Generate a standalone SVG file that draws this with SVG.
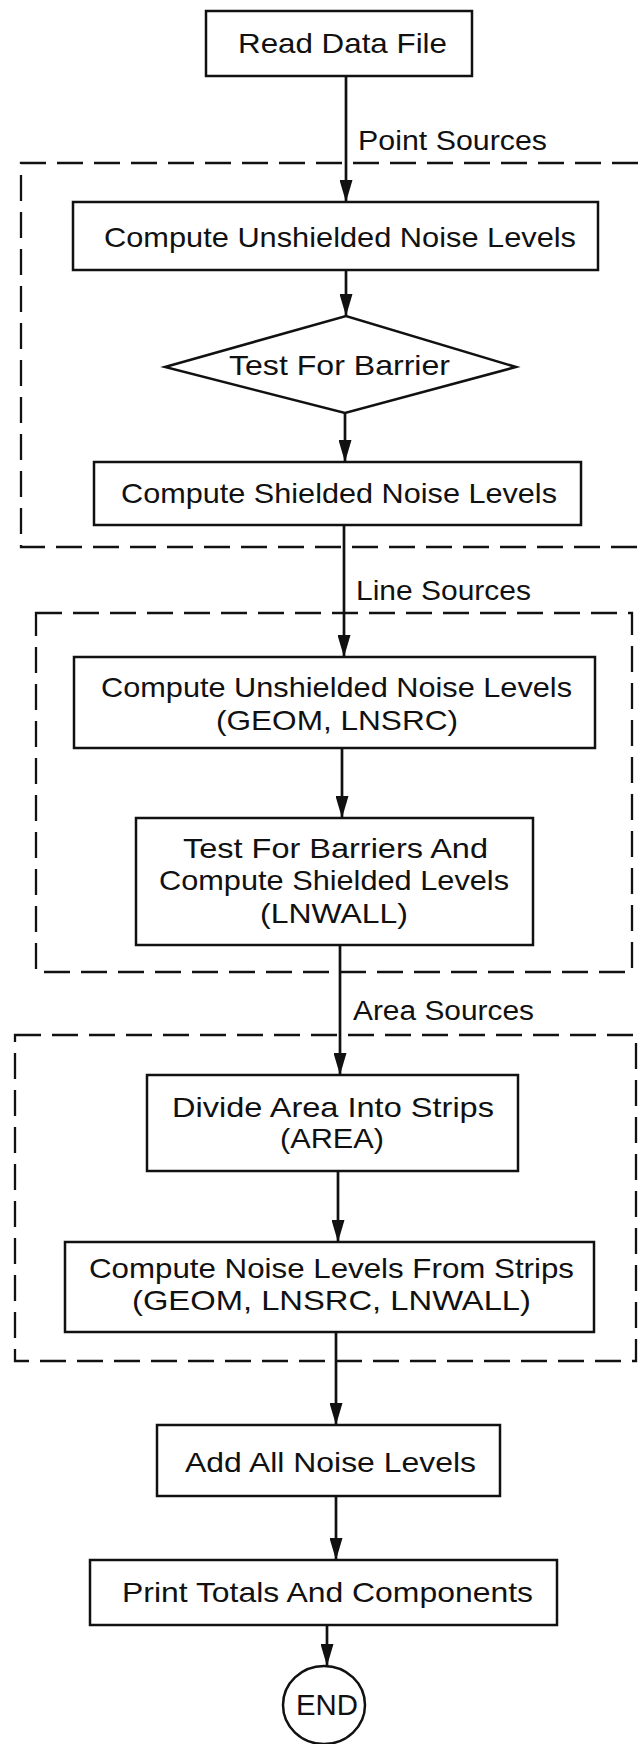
<svg xmlns="http://www.w3.org/2000/svg" width="638" height="1744" viewBox="0 0 638 1744">
<style>
.box{fill:#fff;stroke:#111;stroke-width:2.5}
.grp{fill:none;stroke:#111;stroke-width:2.3;stroke-dasharray:26 11}
.con{fill:none;stroke:#111;stroke-width:2.7}
.t{font-family:"Liberation Sans",Arial,sans-serif;font-size:28px;fill:#111}
.lbl{font-family:"Liberation Sans",Arial,sans-serif;font-size:27px;fill:#111}
</style>
<defs>
<marker id="ah" viewBox="0 0 22 13" refX="22" refY="6.5" markerWidth="22" markerHeight="13" markerUnits="userSpaceOnUse" orient="auto">
<path d="M0,0 L22,6.5 L0,13 z" fill="#111"/>
</marker>
</defs>
<rect width="638" height="1744" fill="#fff"/>
<g id="groups">
<path id="point-sources-group" class="grp" d="M638,163 H21 V547 H638"/>
<rect id="line-sources-group" class="grp" x="36" y="613" width="596" height="359"/>
<rect id="area-sources-group" class="grp" x="15" y="1035" width="621" height="326"/>
</g>
<g id="connectors">
<line class="con" x1="346" y1="76" x2="346" y2="202" marker-end="url(#ah)"/>
<line class="con" x1="346" y1="270" x2="346" y2="316" marker-end="url(#ah)"/>
<line class="con" x1="345" y1="413" x2="345" y2="462" marker-end="url(#ah)"/>
<line class="con" x1="344" y1="525" x2="344" y2="657" marker-end="url(#ah)"/>
<line class="con" x1="342" y1="748" x2="342" y2="818" marker-end="url(#ah)"/>
<line class="con" x1="340" y1="945" x2="340" y2="1075" marker-end="url(#ah)"/>
<line class="con" x1="338" y1="1171" x2="338" y2="1242" marker-end="url(#ah)"/>
<line class="con" x1="336" y1="1332" x2="336" y2="1425" marker-end="url(#ah)"/>
<line class="con" x1="336" y1="1496" x2="336" y2="1560" marker-end="url(#ah)"/>
<line class="con" x1="327" y1="1625" x2="327" y2="1666" marker-end="url(#ah)"/>
<text class="lbl" x="358" y="150" textLength="189" lengthAdjust="spacingAndGlyphs">Point Sources</text>
<text class="lbl" x="356" y="600" textLength="175" lengthAdjust="spacingAndGlyphs">Line Sources</text>
<text class="lbl" x="353" y="1020" textLength="181" lengthAdjust="spacingAndGlyphs">Area Sources</text>
</g>
<g id="read-data-file">
<rect class="box" x="206" y="11" width="266" height="65"/>
<text class="t" x="238" y="53" textLength="209" lengthAdjust="spacingAndGlyphs">Read Data File</text>
</g>
<g id="point-unshielded">
<rect class="box" x="73" y="202" width="525" height="68"/>
<text class="t" x="104" y="247" textLength="472" lengthAdjust="spacingAndGlyphs">Compute Unshielded Noise Levels</text>
</g>
<g id="test-barrier">
<polygon class="box" points="165,367 346,316 516,367 345,413"/>
<text class="t" x="229" y="375" textLength="221" lengthAdjust="spacingAndGlyphs">Test For Barrier</text>
</g>
<g id="point-shielded">
<rect class="box" x="94" y="462" width="487" height="63"/>
<text class="t" x="121" y="503" textLength="436" lengthAdjust="spacingAndGlyphs">Compute Shielded Noise Levels</text>
</g>
<g id="line-unshielded">
<rect class="box" x="74" y="657" width="521" height="91"/>
<text class="t" x="101" y="697" textLength="471" lengthAdjust="spacingAndGlyphs">Compute Unshielded Noise Levels</text>
<text class="t" x="216" y="730" textLength="242" lengthAdjust="spacingAndGlyphs">(GEOM, LNSRC)</text>
</g>
<g id="line-shielded">
<rect class="box" x="136" y="818" width="397" height="127"/>
<text class="t" x="183" y="858" textLength="305" lengthAdjust="spacingAndGlyphs">Test For Barriers And</text>
<text class="t" x="159" y="890" textLength="350" lengthAdjust="spacingAndGlyphs">Compute Shielded Levels</text>
<text class="t" x="260" y="923" textLength="148" lengthAdjust="spacingAndGlyphs">(LNWALL)</text>
</g>
<g id="divide-area">
<rect class="box" x="147" y="1075" width="371" height="96"/>
<text class="t" x="172" y="1117" textLength="322" lengthAdjust="spacingAndGlyphs">Divide Area Into Strips</text>
<text class="t" x="280" y="1148" textLength="104" lengthAdjust="spacingAndGlyphs">(AREA)</text>
</g>
<g id="strip-levels">
<rect class="box" x="65" y="1242" width="529" height="90"/>
<text class="t" x="89" y="1278" textLength="485" lengthAdjust="spacingAndGlyphs">Compute Noise Levels From Strips</text>
<text class="t" x="132" y="1310" textLength="399" lengthAdjust="spacingAndGlyphs">(GEOM, LNSRC, LNWALL)</text>
</g>
<g id="add-levels">
<rect class="box" x="157" y="1425" width="343" height="71"/>
<text class="t" x="185" y="1472" textLength="291" lengthAdjust="spacingAndGlyphs">Add All Noise Levels</text>
</g>
<g id="print-totals">
<rect class="box" x="90" y="1560" width="467" height="65"/>
<text class="t" x="122" y="1602" textLength="411" lengthAdjust="spacingAndGlyphs">Print Totals And Components</text>
</g>
<g id="end">
<ellipse class="box" cx="324" cy="1705" rx="41" ry="39"/>
<text class="t" x="296" y="1715" textLength="62" lengthAdjust="spacingAndGlyphs" style="font-size:29px">END</text>
</g>
</svg>
